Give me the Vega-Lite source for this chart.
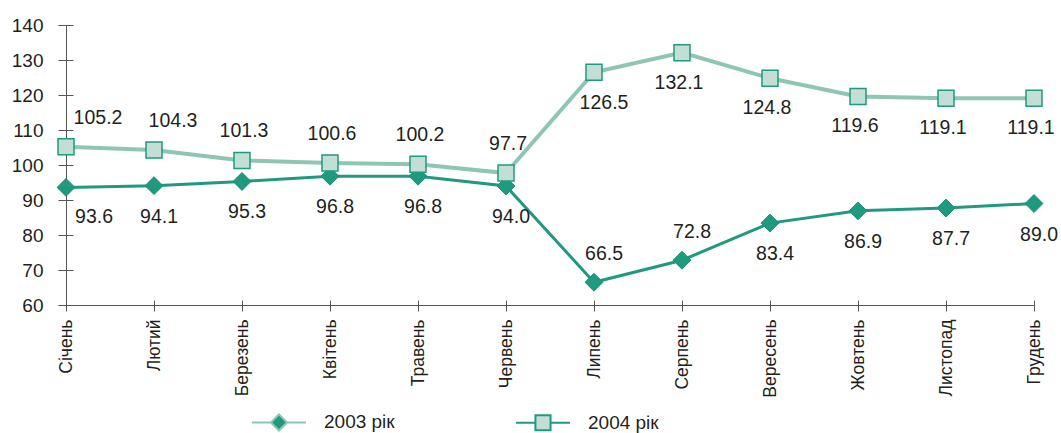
{
  "$schema": "https://vega.github.io/schema/vega-lite/v6.json",
  "width": 968,
  "height": 280,
  "autosize": "none",
  "padding": {"left": 66, "top": 25, "right": 27, "bottom": 128},
  "background": "white",
  "config": {
    "view": {"stroke": null},
    "font": "Liberation Sans",
    "axis": {"grid": false, "domainColor": "#555555", "tickColor": "#555555", "labelColor": "#231f20", "labelFont": "Liberation Sans", "domainWidth": 1, "tickWidth": 1}
  },
  "data": {
    "values": [
      {"month": "Січень", "series": "2003 рік", "value": 93.6},
      {"month": "Лютий", "series": "2003 рік", "value": 94.1},
      {"month": "Березень", "series": "2003 рік", "value": 95.3},
      {"month": "Квітень", "series": "2003 рік", "value": 96.8},
      {"month": "Травень", "series": "2003 рік", "value": 96.8},
      {"month": "Червень", "series": "2003 рік", "value": 94.0},
      {"month": "Липень", "series": "2003 рік", "value": 66.5},
      {"month": "Серпень", "series": "2003 рік", "value": 72.8},
      {"month": "Вересень", "series": "2003 рік", "value": 83.4},
      {"month": "Жовтень", "series": "2003 рік", "value": 86.9},
      {"month": "Листопад", "series": "2003 рік", "value": 87.7},
      {"month": "Грудень", "series": "2003 рік", "value": 89.0},
      {"month": "Січень", "series": "2004 рік", "value": 105.2},
      {"month": "Лютий", "series": "2004 рік", "value": 104.3},
      {"month": "Березень", "series": "2004 рік", "value": 101.3},
      {"month": "Квітень", "series": "2004 рік", "value": 100.6},
      {"month": "Травень", "series": "2004 рік", "value": 100.2},
      {"month": "Червень", "series": "2004 рік", "value": 97.7},
      {"month": "Липень", "series": "2004 рік", "value": 126.5},
      {"month": "Серпень", "series": "2004 рік", "value": 132.1},
      {"month": "Вересень", "series": "2004 рік", "value": 124.8},
      {"month": "Жовтень", "series": "2004 рік", "value": 119.6},
      {"month": "Листопад", "series": "2004 рік", "value": 119.1},
      {"month": "Грудень", "series": "2004 рік", "value": 119.1}
    ]
  },
  "layer": [
    {
      "transform": [{"filter": {"field": "series", "equal": "2003 рік"}}],
      "mark": {"type": "line", "stroke": "#1f9a7f", "strokeWidth": 3},
      "encoding": {
        "x": {
          "field": "month", "type": "ordinal",
          "sort": ["Січень", "Лютий", "Березень", "Квітень", "Травень", "Червень", "Липень", "Серпень", "Вересень", "Жовтень", "Листопад", "Грудень"],
          "scale": {"type": "point", "padding": 0},
          "axis": {"title": null, "orient": "bottom", "labelAngle": -90, "labelAlign": "right", "labelBaseline": "middle", "labelFontSize": 17.5, "tickSize": 6, "labelPadding": 8}
        },
        "y": {
          "field": "value", "type": "quantitative",
          "scale": {"domain": [60, 140], "nice": false, "zero": false},
          "axis": {"title": null, "orient": "left", "values": [60, 70, 80, 90, 100, 110, 120, 130, 140], "labelFontSize": 19, "tickSize": 8, "labelPadding": 15}
        }
      }
    },
    {
      "transform": [{"filter": {"field": "series", "equal": "2004 рік"}}],
      "mark": {"type": "line", "stroke": "#8ec6b2", "strokeWidth": 4},
      "encoding": {
        "x": {"field": "month", "type": "ordinal", "sort": ["Січень", "Лютий", "Березень", "Квітень", "Травень", "Червень", "Липень", "Серпень", "Вересень", "Жовтень", "Листопад", "Грудень"], "scale": {"type": "point", "padding": 0}, "axis": null},
        "y": {"field": "value", "type": "quantitative", "scale": {"domain": [60, 140], "nice": false, "zero": false}, "axis": null}
      }
    },
    {
      "transform": [{"filter": {"field": "series", "equal": "2003 рік"}}],
      "mark": {"type": "point", "shape": "diamond", "filled": true, "fill": "#1f9a7f", "stroke": "#1a8f75", "strokeWidth": 1, "size": 320, "opacity": 1},
      "encoding": {
        "x": {
          "field": "month", "type": "ordinal",
          "sort": ["Січень", "Лютий", "Березень", "Квітень", "Травень", "Червень", "Липень", "Серпень", "Вересень", "Жовтень", "Листопад", "Грудень"],
          "scale": {"type": "point", "padding": 0},
          "axis": {"title": null, "orient": "bottom", "labels": false, "domain": false, "tickSize": -5}
        },
        "y": {
          "field": "value", "type": "quantitative",
          "scale": {"domain": [60, 140], "nice": false, "zero": false},
          "axis": {"title": null, "orient": "left", "labels": false, "domain": false, "tickSize": -7, "values": [60, 70, 80, 90, 100, 110, 120, 130, 140]}
        }
      }
    },
    {
      "transform": [{"filter": {"field": "series", "equal": "2004 рік"}}],
      "mark": {"type": "point", "shape": "square", "filled": true, "fill": "#c3ded4", "stroke": "#1f9a7f", "strokeWidth": 1.5, "size": 256, "opacity": 1},
      "encoding": {
        "x": {"field": "month", "type": "ordinal", "sort": ["Січень", "Лютий", "Березень", "Квітень", "Травень", "Червень", "Липень", "Серпень", "Вересень", "Жовтень", "Листопад", "Грудень"], "scale": {"type": "point", "padding": 0}, "axis": null},
        "y": {"field": "value", "type": "quantitative", "scale": {"domain": [60, 140], "nice": false, "zero": false}, "axis": null}
      }
    },
    {
      "transform": [{"filter": {"field": "series", "equal": "legend only"}}],
      "mark": {"type": "line", "strokeWidth": 2},
      "encoding": {
        "x": {"field": "month", "type": "ordinal", "sort": ["Січень", "Лютий", "Березень", "Квітень", "Травень", "Червень", "Липень", "Серпень", "Вересень", "Жовтень", "Листопад", "Грудень"], "scale": {"type": "point", "padding": 0}, "axis": null},
        "y": {"field": "value", "type": "quantitative", "scale": {"domain": [60, 140], "nice": false, "zero": false}, "axis": null},
        "color": {
          "field": "series", "type": "nominal",
          "scale": {"domain": ["2003 рік", "2004 рік"], "range": ["#8ec6b2", "#1f9a7f"]},
          "legend": {
            "orient": "none", "legendX": 185, "legendY": 369, "direction": "horizontal", "title": null,
            "symbolSize": 2916, "labelFontSize": 19, "labelColor": "#231f20", "labelFont": "Liberation Sans",
            "labelOffset": 17, "columnPadding": 117, "symbolStrokeWidth": 2,
            "encode": {
              "symbols": {
                "update": {
                  "shape": {"signal": "datum.value === '2003 рік' ? 'M-1,0L-0.3,0M0.3,0L1,0M0,-0.3L0.3,0L0,0.3L-0.3,0Z' : 'M-1,0L-0.28,0M0.28,0L1,0M-0.28,-0.28L0.28,-0.28L0.28,0.28L-0.28,0.28Z'"},
                  "fill": {"signal": "datum.value === '2003 рік' ? '#1f9a7f' : '#c3ded4'"},
                  "strokeWidth": {"value": 2},
                  "opacity": {"value": 1},
                  "fillOpacity": {"value": 1},
                  "size": {"value": 2916}
                }
              }
            }
          }
        }
      }
    },
    {
      "transform": [{"filter": {"and": [{"field": "series", "equal": "2004 рік"}, {"field": "month", "oneOf": ["Січень"]}]}}],
      "mark": {"type": "text", "fontSize": 19.5, "color": "#231f20", "dy": -29, "dx": 32, "baseline": "middle"},
      "encoding": {
        "x": {"field": "month", "type": "ordinal", "sort": ["Січень", "Лютий", "Березень", "Квітень", "Травень", "Червень", "Липень", "Серпень", "Вересень", "Жовтень", "Листопад", "Грудень"], "scale": {"type": "point", "padding": 0}, "axis": null},
        "y": {"field": "value", "type": "quantitative", "scale": {"domain": [60, 140], "nice": false, "zero": false}, "axis": null},
        "text": {"field": "value", "type": "quantitative", "format": ".1f"}
      }
    },
    {
      "transform": [{"filter": {"and": [{"field": "series", "equal": "2004 рік"}, {"field": "month", "oneOf": ["Лютий"]}]}}],
      "mark": {"type": "text", "fontSize": 19.5, "color": "#231f20", "dy": -29, "dx": 19, "baseline": "middle"},
      "encoding": {
        "x": {"field": "month", "type": "ordinal", "sort": ["Січень", "Лютий", "Березень", "Квітень", "Травень", "Червень", "Липень", "Серпень", "Вересень", "Жовтень", "Листопад", "Грудень"], "scale": {"type": "point", "padding": 0}, "axis": null},
        "y": {"field": "value", "type": "quantitative", "scale": {"domain": [60, 140], "nice": false, "zero": false}, "axis": null},
        "text": {"field": "value", "type": "quantitative", "format": ".1f"}
      }
    },
    {
      "transform": [{"filter": {"and": [{"field": "series", "equal": "2004 рік"}, {"field": "month", "oneOf": ["Березень", "Квітень", "Травень", "Червень"]}]}}],
      "mark": {"type": "text", "fontSize": 19.5, "color": "#231f20", "dy": -29, "dx": 2, "baseline": "middle"},
      "encoding": {
        "x": {"field": "month", "type": "ordinal", "sort": ["Січень", "Лютий", "Березень", "Квітень", "Травень", "Червень", "Липень", "Серпень", "Вересень", "Жовтень", "Листопад", "Грудень"], "scale": {"type": "point", "padding": 0}, "axis": null},
        "y": {"field": "value", "type": "quantitative", "scale": {"domain": [60, 140], "nice": false, "zero": false}, "axis": null},
        "text": {"field": "value", "type": "quantitative", "format": ".1f"}
      }
    },
    {
      "transform": [{"filter": {"and": [{"field": "series", "equal": "2004 рік"}, {"field": "month", "oneOf": ["Липень"]}]}}],
      "mark": {"type": "text", "fontSize": 19.5, "color": "#231f20", "dy": 31, "dx": 10, "baseline": "middle"},
      "encoding": {
        "x": {"field": "month", "type": "ordinal", "sort": ["Січень", "Лютий", "Березень", "Квітень", "Травень", "Червень", "Липень", "Серпень", "Вересень", "Жовтень", "Листопад", "Грудень"], "scale": {"type": "point", "padding": 0}, "axis": null},
        "y": {"field": "value", "type": "quantitative", "scale": {"domain": [60, 140], "nice": false, "zero": false}, "axis": null},
        "text": {"field": "value", "type": "quantitative", "format": ".1f"}
      }
    },
    {
      "transform": [{"filter": {"and": [{"field": "series", "equal": "2004 рік"}, {"field": "month", "oneOf": ["Серпень", "Вересень", "Жовтень", "Листопад", "Грудень"]}]}}],
      "mark": {"type": "text", "fontSize": 19.5, "color": "#231f20", "dy": 30, "dx": -3, "baseline": "middle"},
      "encoding": {
        "x": {"field": "month", "type": "ordinal", "sort": ["Січень", "Лютий", "Березень", "Квітень", "Травень", "Червень", "Липень", "Серпень", "Вересень", "Жовтень", "Листопад", "Грудень"], "scale": {"type": "point", "padding": 0}, "axis": null},
        "y": {"field": "value", "type": "quantitative", "scale": {"domain": [60, 140], "nice": false, "zero": false}, "axis": null},
        "text": {"field": "value", "type": "quantitative", "format": ".1f"}
      }
    },
    {
      "transform": [{"filter": {"and": [{"field": "series", "equal": "2003 рік"}, {"field": "month", "oneOf": ["Січень"]}]}}],
      "mark": {"type": "text", "fontSize": 19.5, "color": "#231f20", "dy": 30, "dx": 28, "baseline": "middle"},
      "encoding": {
        "x": {"field": "month", "type": "ordinal", "sort": ["Січень", "Лютий", "Березень", "Квітень", "Травень", "Червень", "Липень", "Серпень", "Вересень", "Жовтень", "Листопад", "Грудень"], "scale": {"type": "point", "padding": 0}, "axis": null},
        "y": {"field": "value", "type": "quantitative", "scale": {"domain": [60, 140], "nice": false, "zero": false}, "axis": null},
        "text": {"field": "value", "type": "quantitative", "format": ".1f"}
      }
    },
    {
      "transform": [{"filter": {"and": [{"field": "series", "equal": "2003 рік"}, {"field": "month", "oneOf": ["Лютий", "Березень", "Квітень", "Травень", "Червень", "Вересень", "Жовтень", "Листопад", "Грудень"]}]}}],
      "mark": {"type": "text", "fontSize": 19.5, "color": "#231f20", "dy": 31, "dx": 5, "baseline": "middle"},
      "encoding": {
        "x": {"field": "month", "type": "ordinal", "sort": ["Січень", "Лютий", "Березень", "Квітень", "Травень", "Червень", "Липень", "Серпень", "Вересень", "Жовтень", "Листопад", "Грудень"], "scale": {"type": "point", "padding": 0}, "axis": null},
        "y": {"field": "value", "type": "quantitative", "scale": {"domain": [60, 140], "nice": false, "zero": false}, "axis": null},
        "text": {"field": "value", "type": "quantitative", "format": ".1f"}
      }
    },
    {
      "transform": [{"filter": {"and": [{"field": "series", "equal": "2003 рік"}, {"field": "month", "oneOf": ["Липень", "Серпень"]}]}}],
      "mark": {"type": "text", "fontSize": 19.5, "color": "#231f20", "dy": -28, "dx": 10, "baseline": "middle"},
      "encoding": {
        "x": {"field": "month", "type": "ordinal", "sort": ["Січень", "Лютий", "Березень", "Квітень", "Травень", "Червень", "Липень", "Серпень", "Вересень", "Жовтень", "Листопад", "Грудень"], "scale": {"type": "point", "padding": 0}, "axis": null},
        "y": {"field": "value", "type": "quantitative", "scale": {"domain": [60, 140], "nice": false, "zero": false}, "axis": null},
        "text": {"field": "value", "type": "quantitative", "format": ".1f"}
      }
    }
  ],
  "resolve": {"axis": {"x": "independent", "y": "independent"}}
}
